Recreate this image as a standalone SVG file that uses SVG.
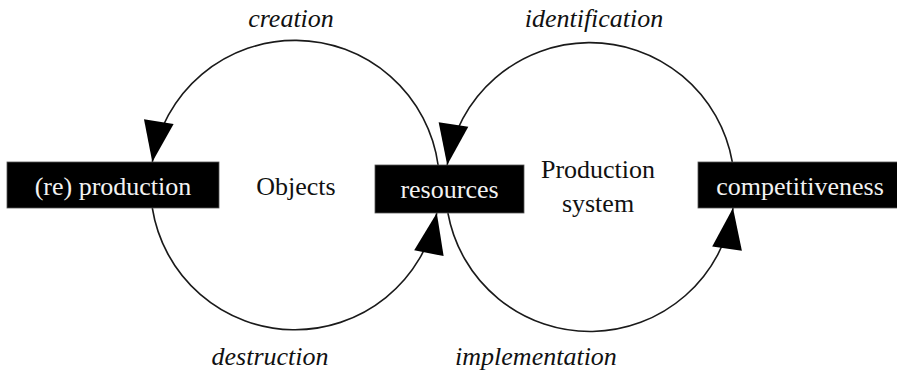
<svg xmlns="http://www.w3.org/2000/svg" width="897" height="372" viewBox="0 0 897 372" font-family="'Liberation Serif', 'DejaVu Serif', serif">
  <style>
    .cycle { fill: none; stroke: #1a1a1a; stroke-width: 1.6; }
    .box rect { fill: #000; stroke: #555; stroke-width: 0.8; }
    .box text { fill: #f2f2f2; font-size: 26px; text-anchor: middle; }
    .label { fill: #111; font-size: 26px; text-anchor: middle; }
    .flow { font-style: italic; }
  </style>
  <defs>
    <marker id="head" markerUnits="userSpaceOnUse" orient="auto" refX="0" refY="0" markerWidth="50" markerHeight="40" overflow="visible">
      <path d="M0,0 L-41,-15 L-41,15 Z" fill="#000"/>
    </marker>
  </defs>

  <rect width="897" height="372" fill="#fff"/>

  <!-- connectors: the two cycles, each split into two directed arcs -->
  <g id="connectors">
    <!-- left cycle: creation (over the top) and destruction (under the bottom) -->
    <path class="cycle" d="M438.1,165 A144.5,144.5 0 0 0 152.3,162" marker-end="url(#head)"/>
    <path class="cycle" d="M152.3,208 A144.5,144.5 0 0 0 436.8,213" marker-end="url(#head)"/>
    <!-- right cycle: identification (over the top) and implementation (under the bottom) -->
    <path class="cycle" d="M732.3,162 A144.5,144.5 0 0 0 447.2,165" marker-end="url(#head)"/>
    <path class="cycle" d="M447.9,213 A144.5,144.5 0 0 0 733,208" marker-end="url(#head)"/>
  </g>

  <!-- nodes -->
  <g id="reproduction" class="box">
    <rect x="7" y="162" width="212" height="46"/>
    <text x="113" y="195">(re) production</text>
  </g>
  <g id="resources" class="box">
    <rect x="375" y="165" width="149" height="48"/>
    <text x="449.5" y="198">resources</text>
  </g>
  <g id="competitiveness" class="box">
    <rect x="698" y="162" width="200" height="46"/>
    <text x="800" y="195">competitiveness</text>
  </g>
  <g id="objects">
    <text class="label" x="296" y="195">Objects</text>
  </g>
  <g id="production-system">
    <text class="label" x="598" y="178">Production</text>
    <text class="label" x="598" y="212">system</text>
  </g>

  <!-- flow labels -->
  <g id="flow-labels">
    <text class="label flow" x="291" y="27">creation</text>
    <text class="label flow" x="594" y="27">identification</text>
    <text class="label flow" x="270" y="365">destruction</text>
    <text class="label flow" x="536" y="365">implementation</text>
  </g>
</svg>
